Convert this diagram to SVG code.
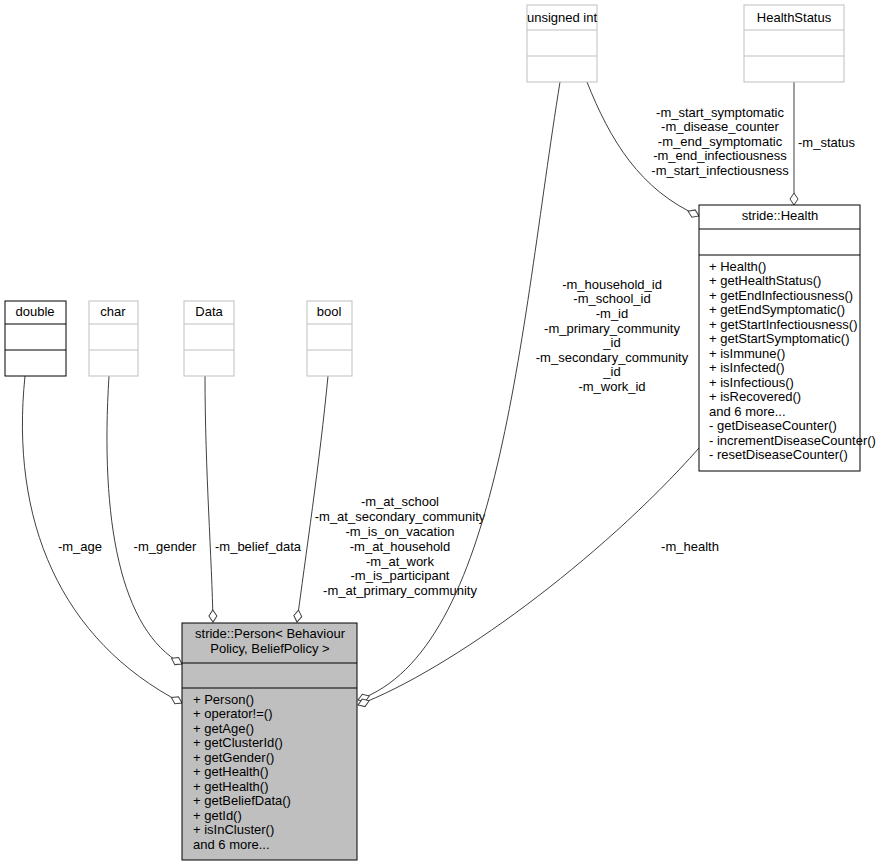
<svg xmlns="http://www.w3.org/2000/svg" width="894" height="867" viewBox="0 0 894 867">
<style>
text{font-family:"Liberation Sans",Arial,sans-serif;font-size:13px;fill:#000}
.m{text-anchor:middle}
.b{fill:#fff;stroke:#000;stroke-width:1}
.g{fill:#fff;stroke:#bfbfbf;stroke-width:1}
.e{fill:none;stroke:#404040;stroke-width:1}
</style>
<defs>
<marker id="d" viewBox="0 0 14 10" refX="13" refY="5" markerWidth="14" markerHeight="10" markerUnits="userSpaceOnUse" orient="auto">
<path d="M1,5 L7,1 L13,5 L7,9 Z" fill="#fff" stroke="#404040"/>
</marker>
</defs>
<rect width="894" height="867" fill="#fff"/>
<g id="connectors">
<path class="e" marker-end="url(#d)" d="M25,376 C10,520 60,640 182,703"/>
<text x="80" y="551" class="m">-m_age</text>
<path class="e" marker-end="url(#d)" d="M109,376 C100,520 120,630 182,664"/>
<text x="165" y="551" class="m">-m_gender</text>
<path class="e" marker-end="url(#d)" d="M205,376 C205,470 212,560 213,622"/>
<text x="258" y="551" class="m">-m_belief_data</text>
<path class="e" marker-end="url(#d)" d="M328,376 C320,460 305,560 297,622"/>
<text x="400" y="506" class="m">-m_at_school</text>
<text x="400" y="521" class="m">-m_at_secondary_community</text>
<text x="400" y="536" class="m">-m_is_on_vacation</text>
<text x="400" y="551" class="m">-m_at_household</text>
<text x="400" y="566" class="m">-m_at_work</text>
<text x="400" y="580" class="m">-m_is_participant</text>
<text x="400" y="595" class="m">-m_at_primary_community</text>
<path class="e" marker-end="url(#d)" d="M560,82 C520,330 500,650 358,700"/>
<text x="612" y="289" class="m">-m_household_id</text>
<text x="612" y="303" class="m">-m_school_id</text>
<text x="612" y="318" class="m">-m_id</text>
<text x="612" y="333" class="m">-m_primary_community</text>
<text x="612" y="347" class="m">_id</text>
<text x="612" y="362" class="m">-m_secondary_community</text>
<text x="612" y="376" class="m">_id</text>
<text x="612" y="391" class="m">-m_work_id</text>
<path class="e" marker-end="url(#d)" d="M699,448 C600,560 450,670 358,705"/>
<text x="690" y="551" class="m">-m_health</text>
<path class="e" marker-end="url(#d)" d="M587,82 C610,140 640,190 699,216"/>
<text x="720" y="117" class="m">-m_start_symptomatic</text>
<text x="720" y="131" class="m">-m_disease_counter</text>
<text x="720" y="146" class="m">-m_end_symptomatic</text>
<text x="720" y="160" class="m">-m_end_infectiousness</text>
<text x="720" y="175" class="m">-m_start_infectiousness</text>
<path class="e" marker-end="url(#d)" d="M794,82 L794,205"/>
<text x="798" y="147">-m_status</text>
</g>
<g id="unsigned_int">
<rect class="g" x="527" y="5" width="70" height="77"/>
<path class="g" d="M527,30H597M527,56H597"/>
<text x="562" y="22" class="m">unsigned int</text>
</g>
<g id="HealthStatus">
<rect class="g" x="744" y="5" width="100" height="77"/>
<path class="g" d="M744,30H844M744,56H844"/>
<text x="794" y="22" class="m">HealthStatus</text>
</g>
<g id="double">
<rect class="b" x="5" y="301" width="61" height="75"/>
<path class="b" d="M5,324H66M5,350H66"/>
<text x="35" y="316" class="m">double</text>
</g>
<g id="char">
<rect class="g" x="89" y="301" width="49" height="75"/>
<path class="g" d="M89,324H138M89,350H138"/>
<text x="113" y="316" class="m">char</text>
</g>
<g id="Data">
<rect class="g" x="184" y="301" width="50" height="75"/>
<path class="g" d="M184,324H234M184,350H234"/>
<text x="209" y="316" class="m">Data</text>
</g>
<g id="bool">
<rect class="g" x="307" y="301" width="45" height="75"/>
<path class="g" d="M307,324H352M307,350H352"/>
<text x="329" y="316" class="m">bool</text>
</g>
<g id="Health">
<rect class="b" x="699" y="205" width="161" height="266"/>
<path class="b" d="M699,229H860M699,255H860"/>
<text x="780" y="220" class="m">stride::Health</text>
<text x="709" y="271">+ Health()</text>
<text x="709" y="285">+ getHealthStatus()</text>
<text x="709" y="300">+ getEndInfectiousness()</text>
<text x="709" y="314">+ getEndSymptomatic()</text>
<text x="709" y="329">+ getStartInfectiousness()</text>
<text x="709" y="343">+ getStartSymptomatic()</text>
<text x="709" y="358">+ isImmune()</text>
<text x="709" y="372">+ isInfected()</text>
<text x="709" y="387">+ isInfectious()</text>
<text x="709" y="401">+ isRecovered()</text>
<text x="709" y="416">and 6 more...</text>
<text x="709" y="430">- getDiseaseCounter()</text>
<text x="709" y="445">- incrementDiseaseCounter()</text>
<text x="709" y="459">- resetDiseaseCounter()</text>
</g>
<g id="Person">
<rect x="182" y="623" width="175" height="237" fill="#bfbfbf" stroke="#000"/>
<path d="M182,663H357M182,688H357" stroke="#000"/>
<text x="270" y="638" class="m">stride::Person&lt; Behaviour</text>
<text x="270" y="653" class="m">Policy, BeliefPolicy &gt;</text>
<text x="193" y="704">+ Person()</text>
<text x="193" y="718">+ operator!=()</text>
<text x="193" y="733">+ getAge()</text>
<text x="193" y="747">+ getClusterId()</text>
<text x="193" y="762">+ getGender()</text>
<text x="193" y="776">+ getHealth()</text>
<text x="193" y="791">+ getHealth()</text>
<text x="193" y="805">+ getBeliefData()</text>
<text x="193" y="820">+ getId()</text>
<text x="193" y="834">+ isInCluster()</text>
<text x="193" y="849">and 6 more...</text>
</g>
</svg>
